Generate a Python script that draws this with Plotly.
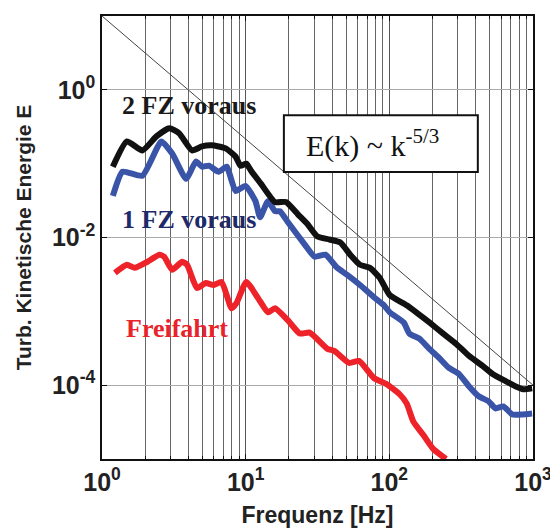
import plotly.graph_objects as go

# ---- data ----
black_x = [1.19, 1.49, 1.91, 2.39, 2.94, 3.44, 4.23, 4.96, 5.81, 7.25,
           8.50, 9.19, 10.1, 10.9, 12.8, 16.0, 19.1, 23.1, 27.0, 31.6,
           38.3, 45.6, 53.4, 62.5, 73.3, 85.9, 100.7, 132, 154, 190,
           237, 291, 358, 446, 523, 642, 753, 855, 986]
black_y = [0.0910, 0.200, 0.151, 0.234, 0.302, 0.258, 0.151, 0.171, 0.177, 0.161,
           0.125, 0.0939, 0.100, 0.0802, 0.0532, 0.0302, 0.0302, 0.0206, 0.0151, 0.0103,
           0.00939, 0.00855, 0.00585, 0.00427, 0.00388, 0.00283, 0.00166, 0.00121, 0.000969, 0.000707,
           0.000500, 0.000365, 0.000250, 0.000182, 0.000142, 0.000114, 0.0000969, 0.0000881, 0.0000910]

blue_x = [1.19, 1.39, 1.91, 2.59, 3.08, 3.85, 4.51, 4.96, 5.54, 6.49,
          7.37, 8.50, 9.95, 11.7, 12.6, 14.3, 16.0, 17.3, 19.7, 25.8,
          30.2, 35.9, 43.4, 50.9, 62.5, 78.1, 91.5, 100.7, 126, 138,
          162, 190, 222, 260, 305, 358, 419, 491, 548, 622,
          718, 842, 986]
blue_y = [0.0365, 0.0777, 0.0685, 0.200, 0.137, 0.0623, 0.107, 0.0910, 0.0939, 0.0777,
          0.0910, 0.0427, 0.0500, 0.0311, 0.0188, 0.0311, 0.0227, 0.0227, 0.0161, 0.00802,
          0.00549, 0.00585, 0.00388, 0.00311, 0.00227, 0.00155, 0.00121, 0.000969, 0.000707, 0.000500,
          0.000427, 0.000311, 0.000234, 0.000171, 0.000142, 0.0000969, 0.0000707, 0.0000604, 0.0000484, 0.0000515,
          0.0000401, 0.0000401, 0.0000413]

red_x = [1.23, 1.49, 1.69, 2.07, 2.51, 2.71, 3.08, 3.61, 3.91, 4.58,
         5.28, 5.99, 6.80, 7.97, 8.63, 10.1, 12.2, 14.3, 16.0, 19.7,
         23.8, 27.9, 37.1, 41.4, 52.6, 61.5, 78.1, 96.0, 118, 132,
         147, 172, 202, 248]
red_y = [0.00332, 0.00427, 0.00388, 0.00469, 0.00585, 0.00549, 0.00365, 0.00469, 0.00427, 0.00207,
         0.00242, 0.00227, 0.00250, 0.00110, 0.00129, 0.00250, 0.00151, 0.000969, 0.00110, 0.000753,
         0.000500, 0.000515, 0.000311, 0.000292, 0.000200, 0.000213, 0.000125, 0.000103, 0.0000753, 0.0000567,
         0.0000321, 0.0000213, 0.0000137, 0.0000100]

ref_x = [1, 1000]
ref_y = [10 * x ** (-5 / 3) for x in ref_x]

x_tickvals = [1, 10, 100, 1000]
x_ticktext = ["<b>10<sup>0</sup></b>", "<b>10<sup>1</sup></b>", "<b>10<sup>2</sup></b>", "<b>10<sup>3</sup></b>"]
x_minor = [m * d for d in (1, 10, 100) for m in range(2, 10)]
y_tickvals = [1, 1e-2, 1e-4]
y_ticktext = ["<b>10<sup>0</sup></b>", "<b>10<sup>-2</sup></b>", "<b>10<sup>-4</sup></b>"]

fig = go.Figure()
fig.add_trace(go.Scatter(x=ref_x, y=ref_y, mode="lines",
                         line=dict(color="#444444", width=1), showlegend=False))
fig.add_trace(go.Scatter(x=red_x, y=red_y, mode="lines",
                         line=dict(color="#ee2229", width=6, shape="spline", smoothing=0.5), showlegend=False))
fig.add_trace(go.Scatter(x=blue_x, y=blue_y, mode="lines",
                         line=dict(color="#3a55a8", width=6, shape="spline", smoothing=0.5), showlegend=False))
fig.add_trace(go.Scatter(x=black_x, y=black_y, mode="lines",
                         line=dict(color="#111111", width=6, shape="spline", smoothing=0.5), showlegend=False))

fig.add_shape(type="rect", xref="paper", yref="paper", x0=0.422, x1=0.872, y0=0.648, y1=0.776,
              line=dict(color="#111111", width=2), fillcolor="white", layer="above")

serif = "Liberation Serif, Times New Roman, serif"
fig.add_annotation(xref="paper", yref="paper", x=0.628, y=0.712, xanchor="center", yanchor="middle",
                   text="E(k) ~ k<sup>-5/3</sup>", showarrow=False,
                   font=dict(family=serif, size=30, color="#111111"))
fig.add_annotation(xref="paper", yref="paper", x=0.202, y=0.797, xanchor="center", yanchor="middle",
                   text="<b>2 FZ voraus</b>", showarrow=False,
                   font=dict(family=serif, size=26, color="#1a1a1a"))
fig.add_annotation(xref="paper", yref="paper", x=0.202, y=0.541, xanchor="center", yanchor="middle",
                   text="<b>1 FZ voraus</b>", showarrow=False,
                   font=dict(family=serif, size=26, color="#1e2a6a"))
fig.add_annotation(xref="paper", yref="paper", x=0.174, y=0.294, xanchor="center", yanchor="middle",
                   text="<b>Freifahrt</b>", showarrow=False,
                   font=dict(family=serif, size=26, color="#e8232a"))

sans = "Liberation Sans, Arial, sans-serif"
fig.update_xaxes(type="log", range=[0, 3], tickmode="array", tickvals=x_tickvals, ticktext=x_ticktext,
                 ticks="inside", ticklen=5, tickcolor="#111111", showline=True, linecolor="#111111",
                 linewidth=1.5, mirror="ticks", showgrid=True, gridcolor="#555555", gridwidth=0.8,
                 minor=dict(tickvals=x_minor, ticks="inside", ticklen=3, tickcolor="#111111",
                            showgrid=True, gridcolor="#666666", gridwidth=0.6),
                 tickfont=dict(family=sans, size=25, color="#222222"),
                 title=dict(text="<b>Frequenz [Hz]</b>", font=dict(family=sans, size=23, color="#222222"),
                            standoff=12),
                 zeroline=False)
fig.update_yaxes(type="log", range=[-5, 1], tickmode="array", tickvals=y_tickvals, ticktext=y_ticktext,
                 ticks="inside", ticklen=5, tickcolor="#111111", showline=True, linecolor="#111111",
                 linewidth=1.5, mirror="ticks", showgrid=True, gridcolor="#aaaaaa", gridwidth=1,
                 tickfont=dict(family=sans, size=25, color="#222222"),
                 title=dict(text="<b>Turb. Kinetische Energie E</b>",
                            font=dict(family=sans, size=21, color="#222222"), standoff=15),
                 zeroline=False)

# page body adds an 8px offset; plot area targets x 102..538, y 14..452 in the window
fig.update_layout(width=550, height=522, margin=dict(l=94, r=20, t=6, b=70),
                  plot_bgcolor="white", paper_bgcolor="white", showlegend=False)

fig.write_html("out.html")
